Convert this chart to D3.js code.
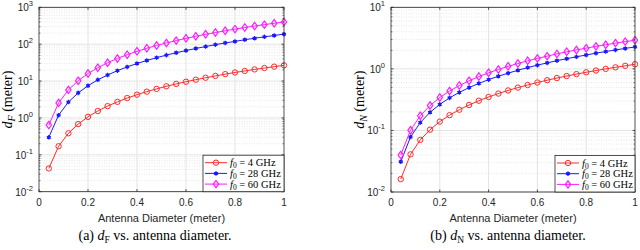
<!DOCTYPE html>
<html>
<head>
<meta charset="utf-8">
<script src="https://cdn.jsdelivr.net/npm/d3@7"></script>
<style>
    body { margin: 0; background: #fff; }
    svg { display: block; }
    .tick-label { font-family: "Liberation Sans", Arial, sans-serif; font-size: 10px; fill: #262626; }
    .axis-title { font-family: "Liberation Sans", Arial, sans-serif; font-size: 11px; fill: #262626; }
    .serif { font-family: "Liberation Serif", "Times New Roman", serif; fill: #000; }
</style>
</head>
<body>
<svg id="chart" width="640" height="250"></svg>
<script>
// near-field / far-field distance vs antenna diameter

const diameter = [0.04, 0.08, 0.12, 0.16, 0.20, 0.24, 0.28, 0.32, 0.36, 0.40, 0.44, 0.48, 0.52,
    0.56, 0.60, 0.64, 0.68, 0.72, 0.76, 0.80, 0.84, 0.88, 0.92, 0.96, 1.00];

// (a) d_F in meter
const dF4 = [0.0427, 0.171, 0.384, 0.683, 1.07, 1.54, 2.09, 2.73, 3.46, 4.27, 5.16, 6.14, 7.21,
    8.36, 9.60, 10.9, 12.3, 13.8, 15.4, 17.1, 18.8, 20.7, 22.6, 24.6, 26.7];
const dF28 = [0.299, 1.19, 2.69, 4.78, 7.47, 10.8, 14.6, 19.1, 24.2, 29.9, 36.1, 43.0, 50.5,
    58.5, 67.2, 76.5, 86.3, 96.8, 108, 119, 132, 145, 158, 172, 187];
const dF60 = [0.64, 2.56, 5.76, 10.2, 16.0, 23.0, 31.4, 41.0, 51.8, 64.0, 77.4, 92.2, 108,
    125, 144, 164, 185, 207, 231, 256, 282, 310, 339, 369, 400];

// (b) d_N in meter
const dN4 = [0.0162, 0.0409, 0.0702, 0.103, 0.139, 0.177, 0.217, 0.259, 0.304, 0.349, 0.397, 0.446, 0.496,
    0.547, 0.600, 0.654, 0.709, 0.765, 0.822, 0.880, 0.940, 1.00, 1.06, 1.12, 1.19];
const dN28 = [0.0310, 0.0782, 0.134, 0.197, 0.265, 0.338, 0.415, 0.496, 0.581, 0.668, 0.759, 0.852, 0.948,
    1.05, 1.15, 1.25, 1.36, 1.46, 1.57, 1.68, 1.80, 1.91, 2.03, 2.15, 2.27];
const dN60 = [0.0400, 0.101, 0.173, 0.254, 0.342, 0.436, 0.536, 0.640, 0.749, 0.862, 0.978, 1.10, 1.22,
    1.35, 1.48, 1.61, 1.75, 1.89, 2.03, 2.17, 2.32, 2.47, 2.62, 2.77, 2.92];

const freqLabels = ["4 GHz", "28 GHz", "60 GHz"];
const xTicks = [0, 0.2, 0.4, 0.6, 0.8, 1];
const xTickLabels = ["0", "0.2", "0.4", "0.6", "0.8", "1"];

const colors = ["#ff2a2a", "#1a1aff", "#ff1aff"];
const markers = ["circle", "asterisk", "diamond"];
const axisColor = "#262626";

const svg = d3.select("#chart");

function drawMarker(g, type, color, x, y) {
    if (type === "circle") {
        g.append("circle").attr("cx", x).attr("cy", y).attr("r", 2.7)
            .attr("fill", "none").attr("stroke", color).attr("stroke-width", 1);
    } else if (type === "asterisk") {
        g.append("path").attr("transform", `translate(${x},${y})`)
            .attr("d", d3.symbol(d3.symbolAsterisk, 14)())
            .attr("fill", "none").attr("stroke", color).attr("stroke-width", 1.2);
        g.append("circle").attr("cx", x).attr("cy", y).attr("r", 1.6).attr("fill", color);
    } else {
        g.append("path").attr("transform", `translate(${x},${y}) scale(1.25,1)`)
            .attr("d", d3.symbol(d3.symbolDiamond, 16)())
            .attr("fill", "none").attr("stroke", color).attr("stroke-width", 1);
    }
}

function drawPanel(p) {
    const x = d3.scaleLinear().domain([0, 1]).range([p.left, p.right]);
    const y = d3.scaleLog().domain(p.yDomain).range([p.bottom, p.top]);
    const g = svg.append("g");

    const decades = d3.range(Math.log10(p.yDomain[0]), Math.log10(p.yDomain[1]) + 1);
    const minors = [];
    decades.slice(0, -1).forEach(e => {
        for (let m = 2; m <= 9; m++) minors.push(m * Math.pow(10, e));
    });

    // grid
    g.selectAll(".minor").data(minors).enter().append("line")
        .attr("x1", p.left).attr("x2", p.right)
        .attr("y1", d => y(d)).attr("y2", d => y(d))
        .attr("stroke", "#d9d9d9").attr("stroke-width", 0.6).attr("stroke-dasharray", "1,1.5");
    g.selectAll(".major").data(decades.map(e => Math.pow(10, e))).enter().append("line")
        .attr("x1", p.left).attr("x2", p.right)
        .attr("y1", d => y(d)).attr("y2", d => y(d))
        .attr("stroke", "#e3e3e3").attr("stroke-width", 1);
    g.selectAll(".vgrid").data(xTicks.slice(1, -1)).enter().append("line")
        .attr("x1", d => x(d)).attr("x2", d => x(d))
        .attr("y1", p.top).attr("y2", p.bottom)
        .attr("stroke", "#e3e3e3").attr("stroke-width", 1);

    // series
    p.series.forEach((vals, i) => {
        const line = d3.line().x((d, j) => x(diameter[j])).y(d => y(d));
        g.append("path").datum(vals).attr("d", line)
            .attr("fill", "none").attr("stroke", colors[i]).attr("stroke-width", 1);
        const mg = g.append("g");
        vals.forEach((v, j) => drawMarker(mg, markers[i], colors[i], x(diameter[j]), y(v)));
    });

    // box and ticks
    g.append("rect").attr("x", p.left).attr("y", p.top)
        .attr("width", p.right - p.left).attr("height", p.bottom - p.top)
        .attr("fill", "none").attr("stroke", axisColor).attr("stroke-width", 0.8);
    xTicks.forEach(t => {
        g.append("line").attr("x1", x(t)).attr("x2", x(t)).attr("y1", p.bottom).attr("y2", p.bottom - 2.5)
            .attr("stroke", axisColor).attr("stroke-width", 0.8);
        g.append("line").attr("x1", x(t)).attr("x2", x(t)).attr("y1", p.top).attr("y2", p.top + 2.5)
            .attr("stroke", axisColor).attr("stroke-width", 0.8);
    });
    decades.forEach(e => {
        const yy = y(Math.pow(10, e));
        g.append("line").attr("x1", p.left).attr("x2", p.left + 2.5).attr("y1", yy).attr("y2", yy)
            .attr("stroke", axisColor).attr("stroke-width", 0.8);
        g.append("line").attr("x1", p.right).attr("x2", p.right - 2.5).attr("y1", yy).attr("y2", yy)
            .attr("stroke", axisColor).attr("stroke-width", 0.8);
    });
    minors.forEach(m => {
        const yy = y(m);
        g.append("line").attr("x1", p.left).attr("x2", p.left + 1.5).attr("y1", yy).attr("y2", yy)
            .attr("stroke", axisColor).attr("stroke-width", 0.6);
        g.append("line").attr("x1", p.right).attr("x2", p.right - 1.5).attr("y1", yy).attr("y2", yy)
            .attr("stroke", axisColor).attr("stroke-width", 0.6);
    });

    // tick labels
    xTicks.forEach((t, i) => {
        g.append("text").attr("class", "tick-label").attr("x", x(t)).attr("y", p.bottom + 14)
            .attr("text-anchor", "middle").text(xTickLabels[i]);
    });
    decades.forEach(e => {
        const t = g.append("text").attr("class", "tick-label")
            .attr("x", p.left - 6).attr("y", y(Math.pow(10, e)) + 4).attr("text-anchor", "end");
        t.append("tspan").text("10");
        t.append("tspan").attr("dy", -5).attr("font-size", "7.5px").text(e);
    });

    // axis titles
    g.append("text").attr("class", "axis-title")
        .attr("x", (p.left + p.right) / 2).attr("y", p.bottom + 30)
        .attr("text-anchor", "middle").text("Antenna Diameter (meter)");

    const yl = g.append("text").attr("class", "serif").attr("font-size", "14px")
        .attr("text-anchor", "middle")
        .attr("transform", `translate(${p.ylabelX},${(p.top + p.bottom) / 2}) rotate(-90)`);
    yl.append("tspan").attr("font-style", "italic").text("d");
    yl.append("tspan").attr("font-style", "italic").attr("font-size", "10px").attr("dy", 2.5).text(p.sub);
    yl.append("tspan").attr("dy", -2.5).text(" (meter)");

    // caption
    const cap = g.append("text").attr("class", "serif").attr("font-size", "14px")
        .attr("x", p.captionX).attr("y", 240).attr("text-anchor", "middle");
    cap.append("tspan").text(`(${p.tag}) `);
    cap.append("tspan").attr("font-style", "italic").text("d");
    cap.append("tspan").attr("font-size", "9.5px").attr("dy", 2.5).text(p.sub);
    cap.append("tspan").attr("dy", -2.5).text(" vs. antenna diameter.");

    // legend
    const lg = g.append("g");
    lg.append("rect").attr("x", p.legendX).attr("y", p.bottom - 36.5)
        .attr("width", p.right - p.legendX).attr("height", 36.5)
        .attr("fill", "#fff").attr("stroke", axisColor).attr("stroke-width", 0.8);
    freqLabels.forEach((lab, i) => {
        const ly = p.bottom - 29 + i * 10.7;
        const lx0 = p.legendX + 2, lx1 = p.legendX + 24;
        lg.append("line").attr("x1", lx0).attr("x2", lx1).attr("y1", ly).attr("y2", ly)
            .attr("stroke", colors[i]).attr("stroke-width", 1);
        drawMarker(lg, markers[i], colors[i], (lx0 + lx1) / 2, ly);
        const t = lg.append("text").attr("class", "serif").attr("font-size", "10.5px")
            .attr("x", lx1 + 3).attr("y", ly + 3.5);
        t.append("tspan").attr("font-style", "italic").text("f");
        t.append("tspan").attr("font-size", "7.5px").attr("dy", 2).text("0");
        t.append("tspan").attr("dy", -2).text(" = " + lab);
    });
}

drawPanel({
    left: 39, right: 284, top: 7.3, bottom: 191.7, yDomain: [1e-2, 1e3],
    series: [dF4, dF28, dF60], sub: "F", tag: "a",
    ylabelX: 12, captionX: 155, legendX: 203
});
drawPanel({
    left: 391, right: 635, top: 7.3, bottom: 192, yDomain: [1e-2, 1e1],
    series: [dN4, dN28, dN60], sub: "N", tag: "b",
    ylabelX: 364, captionX: 508, legendX: 555
});
</script>
</body>
</html>
